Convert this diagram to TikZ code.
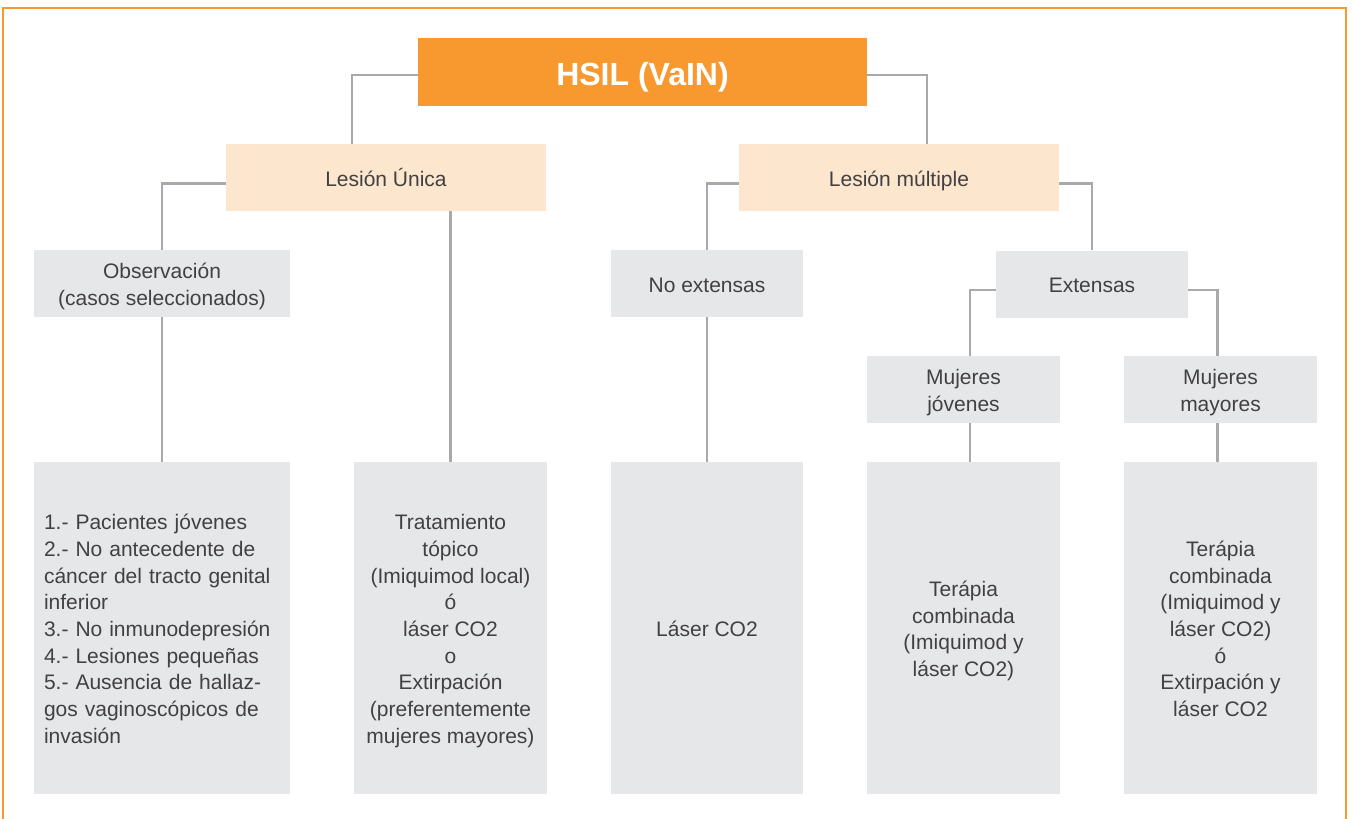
\documentclass[tikz,border=0pt]{standalone}
\usepackage{fontspec}
\setmainfont{Liberation Sans}
\usetikzlibrary{positioning}

\definecolor{hsilOrange}{HTML}{F7992F}
\definecolor{lesionPeach}{HTML}{FDE6CE}
\definecolor{boxGray}{HTML}{E6E7E8}
\definecolor{lineGray}{HTML}{A7A9AC}
\definecolor{textGray}{HTML}{414042}
\newcommand\topStrut{\rule{0pt}{22pt}}
\newcommand\bottomStrut{\rule[-5pt]{0pt}{5pt}}

\begin{document}
\begin{tikzpicture}
[x=1pt,y=-1pt,%
  lineDecorate/.style={-,line width=2.2pt,draw=lineGray},%
  frameDecorate/.style={-,line width=2.8pt,draw=hsilOrange},%
  boxDecorate/.style={shape=rectangle,inner sep=0pt,align=center,text=textGray,font=\fontsize{21}{26.7}\selectfont},%
  rootDecorate/.style={boxDecorate,fill=hsilOrange,text=white,font=\fontsize{32}{38}\selectfont\bfseries,text height=30pt,text depth=4pt,minimum width=449pt,minimum height=68pt},%
  lesionDecorate/.style={boxDecorate,fill=lesionPeach,minimum width=320pt,minimum height=67pt},%
  optionDecorate/.style={boxDecorate,fill=boxGray,minimum height=67pt},%
  treatDecorate/.style={boxDecorate,fill=boxGray,minimum width=193pt,minimum height=332pt}]
\useasboundingbox (0,0) rectangle (1352,819);
%% frame
\draw[frameDecorate] (3,819) |- (1346,8) -- (1346,819);
%% root and lesion type
\node[rootDecorate] (hsil) at (642.5,72) {HSIL (VaIN)};
\node[lesionDecorate] (unica) at (386,177.5) {\topStrut Lesión Única\bottomStrut};
\node[lesionDecorate] (multiple) at (899,177.5) {\topStrut Lesión múltiple\bottomStrut};
%% option boxes
\foreach \nodename/\x/\y/\w/\txt in {
  obs/162/283.5/256/{Observación\\(casos seleccionados)},
  noext/707/283.5/192/{No extensas},
  ext/1092/284/192/{Extensas},
  jov/963.5/389.5/193/{Mujeres\\jóvenes},
  may/1220.5/389.5/193/{Mujeres\\mayores}}
{
  \node[optionDecorate,minimum width=\w pt] (\nodename) at (\x,\y) {\topStrut\txt\bottomStrut};
}
%% treatment boxes
\node[treatDecorate,minimum width=256pt,text width=236pt,align=left] (criterios) at (162,628)
  {\topStrut 1.- Pacientes jóvenes\\2.- No antecedente de\\cáncer del tracto genital\\inferior\\3.- No inmunodepresión\\4.- Lesiones pequeñas\\5.- Ausencia de hallaz-\\gos vaginoscópicos de\\invasión\bottomStrut};
\node[treatDecorate] (topico) at (450.5,628)
  {\topStrut Tratamiento\\tópico\\(Imiquimod local)\\ó\\láser CO2\\o\\Extirpación\\(preferentemente\\mujeres mayores)\bottomStrut};
\node[treatDecorate,minimum width=192pt] (laser) at (707,628) {\topStrut Láser CO2\bottomStrut};
\node[treatDecorate] (combinada) at (963.5,628)
  {\topStrut Terápia\\combinada\\(Imiquimod y\\láser CO2)\bottomStrut};
\node[treatDecorate] (combinadaExt) at (1220.5,628)
  {\topStrut Terápia\\combinada\\(Imiquimod y\\láser CO2)\\ó\\Extirpación y\\láser CO2\bottomStrut};
%% elbow connectors
\draw[lineDecorate] ([yshift=-3pt]hsil.west) -| ([xshift=-34pt]unica.north);
\draw[lineDecorate] ([yshift=-3pt]hsil.east) -| ([xshift=28pt]multiple.north);
\draw[lineDecorate] ([yshift=-6pt]unica.west) -| (obs.north);
\draw[lineDecorate] ([yshift=-6pt]multiple.west) -| (noext.north);
\draw[lineDecorate] ([yshift=-6pt]multiple.east) -| (ext.north);
\draw[lineDecorate] ([yshift=-6pt]ext.west) -| ([xshift=6.5pt]jov.north);
\draw[lineDecorate] ([yshift=-6pt]ext.east) -| ([xshift=-3pt]may.north);
%% straight connectors
\path
(topico.north) edge[lineDecorate] (topico.north |- unica.south)
(obs.south) edge[lineDecorate] (criterios.north)
(noext.south) edge[lineDecorate] (laser.north)
([xshift=6.5pt]jov.south) edge[lineDecorate] ([xshift=6.5pt]combinada.north)
([xshift=-3pt]may.south) edge[lineDecorate] ([xshift=-3pt]combinadaExt.north);
\end{tikzpicture}
\end{document}
